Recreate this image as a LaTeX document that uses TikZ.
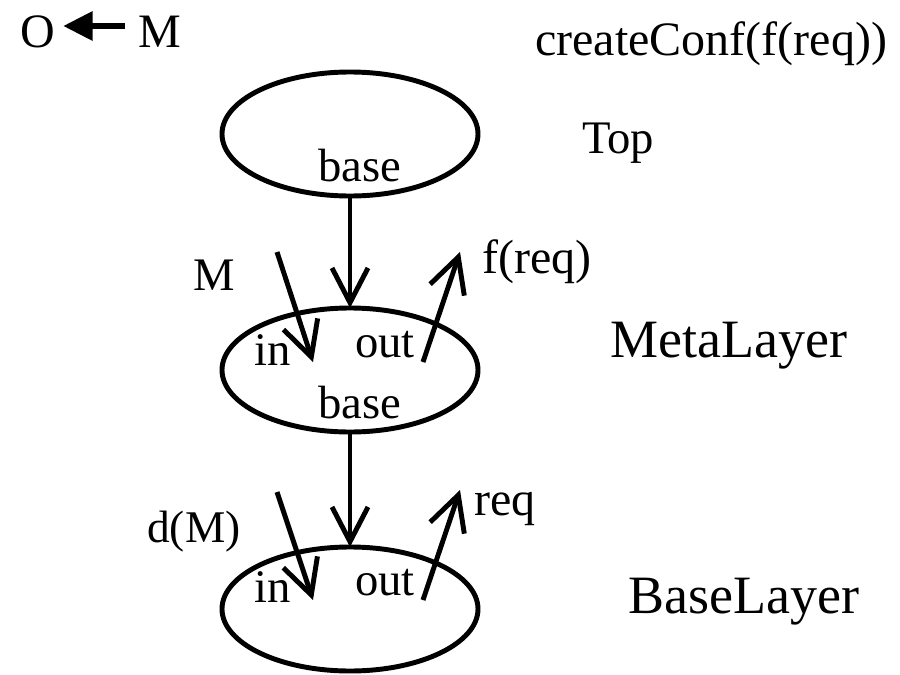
\documentclass[tikz,border=0pt]{standalone}
\usepackage{fontspec}
\setmainfont{Liberation Serif}
\usetikzlibrary{shapes.geometric,arrows.meta}
\begin{document}
\begin{tikzpicture}[x=0.75pt,y=-0.75pt,
  lay/.style={ellipse,draw,line width=3.7pt,inner sep=0pt,outer sep=0pt,minimum width=192pt,minimum height=93pt},
  conn/.style={line width=3.7pt,-{Straight Barb[length=26pt,width=27pt,line width=3.7pt]}},
  txt/.style={inner sep=0pt,anchor=base west,font=\fontsize{36pt}{40pt}\selectfont},
  mid/.style={txt,font=\fontsize{35pt}{40pt}\selectfont},
  bigtxt/.style={inner sep=0pt,anchor=base west,font=\fontsize{40.5pt}{44pt}\selectfont}]
\useasboundingbox (0,0) rectangle (900,675);
% ellipses
\node[lay] (top) at (350,134) {};
\node[lay] (meta) at (350,370) {};
\node[lay] (base) at (350,609) {};
% layer names
\node[mid] (ttop) at (582,153) {Top};
\node[bigtxt] (tmeta) at (610,357) {MetaLayer};
\node[bigtxt] (tbase) at (628,613) {BaseLayer};
\node[txt] (conf) at (535,55) {createConf(f(req))};
% inside labels
\node[mid] (b1) at (318,181) {base};
\node[mid] (b2) at (318,418) {base};
\node[mid] (in1) at (254,365) {in};
\node[mid] (out1) at (355,357) {out};
\node[mid] (in2) at (254,602) {in};
\node[mid] (out2) at (355,595) {out};
% arrow labels
\node[mid] (lm) at (193,290) {M};
\node[txt] (lf) at (482,273) {f(req)};
\node[txt,font=\fontsize{34pt}{40pt}\selectfont] (ld) at (147,542) {d(M)};
\node[txt] (lr) at (474,515) {req};
% legend
\node[txt] (lo) at (20,47) {O};
\node[txt] (lmm) at (138,47) {M};
\draw[line width=4.5pt,-{Triangle[length=22pt,width=21pt]}] ([xshift=-10pt]lmm.west |- 0,26) -- ([xshift=6pt]lo.east |- 0,26);
% connectors
\draw[conn] (top.south) -- (meta.north);
\draw[conn] (meta.south) -- (base.north);
\coordinate (mi0) at (277,252); \coordinate (mi1) at (313,362);
\coordinate (mo0) at (423,362); \coordinate (mo1) at (460,252);
\coordinate (bi0) at (277,492); \coordinate (bi1) at (313,600);
\coordinate (bo0) at (423,600); \coordinate (bo1) at (460,490);
\draw[conn] (mi0) -- (mi1);
\draw[conn] (mo0) -- (mo1);
\draw[conn] (bi0) -- (bi1);
\draw[conn] (bo0) -- (bo1);
\end{tikzpicture}
\end{document}
